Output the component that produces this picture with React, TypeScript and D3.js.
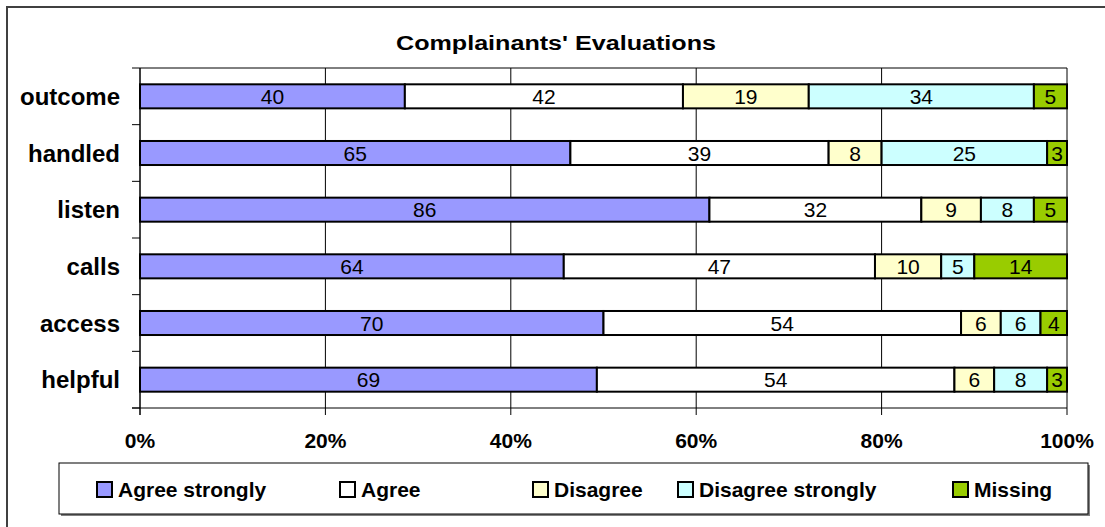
import React from "react";
import * as d3 from "d3";

const categories = ["outcome", "handled", "listen", "calls", "access", "helpful"];
const seriesNames = ["Agree strongly", "Agree", "Disagree", "Disagree strongly", "Missing"];
const agreeStrongly = [40, 65, 86, 64, 70, 69];
const agree = [42, 39, 32, 47, 54, 54];
const disagree = [19, 8, 9, 10, 6, 6];
const disagreeStrongly = [34, 25, 8, 5, 6, 8];
const missing = [5, 3, 5, 14, 4, 3];
const xTicks = [0, 0.2, 0.4, 0.6, 0.8, 1.0];
const title = "Complainants' Evaluations";

const colors = ["#9999FF", "#FFFFFF", "#FFFFCC", "#CCFFFF", "#99CC00"];
const legendX = [97, 340, 533, 678, 953];

const W = 1105;
const H = 527;
const plot = { left: 140, right: 1067, top: 68, bottom: 408 };
const FONT = "'Liberation Sans', Arial, sans-serif";

export default function App() {
  const series = [agreeStrongly, agree, disagree, disagreeStrongly, missing];
  const rows = categories.map((c, i) => {
    const vals = series.map((s) => s[i]);
    const total = d3.sum(vals);
    let acc = 0;
    const segs = vals.map((v, k) => {
      const s0 = acc / total;
      acc += v;
      return { v, k, s0, s1: acc / total };
    });
    return { c, segs };
  });

  const x = d3.scaleLinear().domain([0, 1]).range([plot.left, plot.right]);
  const y = d3
    .scaleBand<string>()
    .domain(categories)
    .range([plot.top, plot.bottom])
    .paddingInner(0.576)
    .paddingOuter(0.288);
  const boundaries = d3.range(categories.length + 1).map(
    (i) => plot.top + (i * (plot.bottom - plot.top)) / categories.length
  );

  return (
    <svg
      width={W}
      height={H}
      style={{ position: "absolute", left: 0, top: 0, display: "block", background: "#fff" }}
      fontFamily={FONT}
    >
      <path d={`M7,${H + 20} V7 H${W + 20}`} fill="none" stroke="#404040" strokeWidth={2} />
      <text
        x={556}
        y={50}
        textAnchor="middle"
        fontWeight="bold"
        fontSize={20}
        textLength={320}
        lengthAdjust="spacingAndGlyphs"
      >
        {title}
      </text>

      {/* gridlines */}
      {xTicks.map((t) => (
        <line key={"g" + t} x1={x(t)} x2={x(t)} y1={plot.top} y2={plot.bottom} stroke="#000" strokeWidth={1} />
      ))}
      <line x1={plot.left} x2={plot.right} y1={plot.top} y2={plot.top} stroke="#000" strokeWidth={1} />

      {/* y axis */}
      <line x1={plot.left} x2={plot.left} y1={plot.top} y2={plot.bottom + 7} stroke="#000" strokeWidth={1} />
      {boundaries.map((b, i) => (
        <line key={"yt" + i} x1={plot.left - 8} x2={plot.left} y1={b} y2={b} stroke="#000" strokeWidth={1} />
      ))}
      {/* x axis */}
      <line x1={plot.left - 8} x2={plot.right} y1={plot.bottom} y2={plot.bottom} stroke="#000" strokeWidth={1} />
      {xTicks.map((t) => (
        <g key={"xt" + t}>
          <line x1={x(t)} x2={x(t)} y1={plot.bottom} y2={plot.bottom + 7} stroke="#000" strokeWidth={1} />
          <text x={x(t)} y={448} textAnchor="middle" fontWeight="bold" fontSize={21}>
            {d3.format(".0%")(t)}
          </text>
        </g>
      ))}

      {/* bars */}
      {rows.map((r) => {
        const y0 = y(r.c)!;
        const bh = y.bandwidth();
        return (
          <g key={r.c}>
            <text
              x={120}
              y={y0 + bh / 2}
              dy="0.36em"
              textAnchor="end"
              fontWeight="bold"
              fontSize={24}
            >
              {r.c}
            </text>
            {r.segs.map((s) => (
              <rect
                key={s.k}
                x={x(s.s0)}
                y={y0}
                width={x(s.s1) - x(s.s0)}
                height={bh}
                fill={colors[s.k]}
                stroke="#000"
                strokeWidth={2}
              />
            ))}
            {r.segs.map((s) => (
              <text
                key={"l" + s.k}
                x={(x(s.s0) + x(s.s1)) / 2}
                y={y0 + bh / 2}
                dy="0.36em"
                textAnchor="middle"
                fontSize={21}
              >
                {s.v}
              </text>
            ))}
          </g>
        );
      })}

      {/* legend */}
      <rect x={61} y={465} width={1029} height={51} fill="#808080" />
      <rect x={59} y={463} width={1029} height={51} fill="#fff" stroke="#000" strokeWidth={1} />
      {seriesNames.map((n, i) => (
        <g key={n}>
          <rect x={legendX[i]} y={482} width={15} height={15} fill={colors[i]} stroke="#000" strokeWidth={2} />
          <text x={legendX[i] + 21} y={497} fontWeight="bold" fontSize={21}>
            {n}
          </text>
        </g>
      ))}
    </svg>
  );
}
